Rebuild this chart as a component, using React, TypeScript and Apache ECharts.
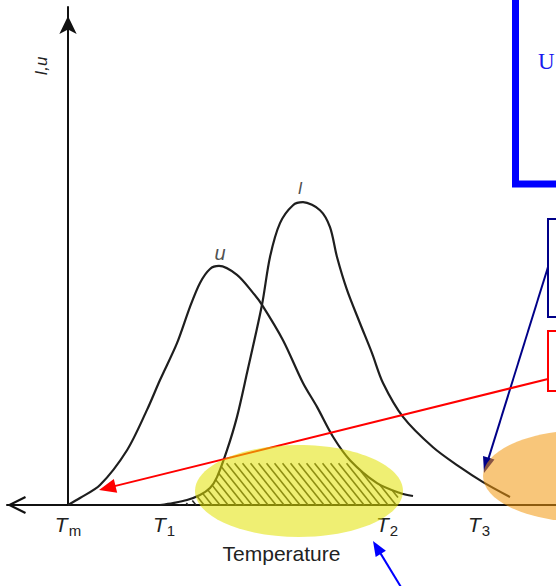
import React, { useEffect, useRef } from 'react';
import * as echarts from 'echarts';

// ---- data (temperature offset from Tm, relative signal 0..100) ----
const uTemp = [0, 12, 32, 59, 79, 92, 109, 122, 132, 142, 151, 169, 185, 194, 215, 235, 249, 265, 282, 309, 332, 345];
const uValue = [0, 1.4, 4.0, 11.0, 19.1, 25.1, 32.5, 39.8, 44.6, 47.4, 48.0, 46.2, 42.6, 40.2, 33.1, 24.5, 19.7, 13.7, 9.0, 4.4, 2.4, 1.8];
const iTemp = [92, 105, 119, 132, 142, 149, 159, 169, 179, 194, 202, 212, 225, 235, 252, 262, 269, 279, 292, 304, 315, 335, 365, 392, 415, 442];
const iValue = [0, 0.4, 1.0, 2.0, 3.4, 5.6, 11.0, 17.7, 26.5, 40.2, 49.8, 56.6, 60.2, 60.8, 59.2, 55.8, 49.8, 43.2, 36.5, 30.5, 24.5, 17.7, 11.6, 7.6, 4.6, 1.6];
const hatchTemp = [110, 122, 132, 142, 149, 154, 282, 297, 309, 322, 330];
const hatchValue = [0, 0.6, 2.0, 3.4, 5.6, 8.4, 8.4, 6.2, 4.4, 3.0, 2.6];
const tickValues = [0, 96, 319, 411];
const tickSubs = ['m', '1', '2', '3'];
const curveNames = ['u', 'I'];
const curveLabelTemp = [152, 232];
const curveLabelValue = [50.6, 63.5];

function arrowEls(x1: number, y1: number, x2: number, y2: number, color: string, lw: number, len: number, w: number) {
  const dx = x2 - x1, dy = y2 - y1;
  const L = Math.hypot(dx, dy);
  const ux = dx / L, uy = dy / L;
  const nx = -uy, ny = ux;
  const bx = x2 - ux * len, by = y2 - uy * len;
  return [
    { type: 'line', z: 10, shape: { x1, y1, x2: bx + ux * 2, y2: by + uy * 2 }, style: { stroke: color, lineWidth: lw } },
    {
      type: 'polygon', z: 10,
      shape: { points: [[x2, y2], [bx + nx * w / 2, by + ny * w / 2], [bx - nx * w / 2, by - ny * w / 2]] },
      style: { fill: color },
    },
  ];
}

export default function App() {
  const ref = useRef<HTMLDivElement>(null);
  useEffect(() => {
    if (!ref.current) return;
    const chart = echarts.init(ref.current, null, { renderer: 'svg' });
    const lineColor = '#1e1e1e';
    const option: any = {
      animation: false,
      backgroundColor: '#ffffff',
      grid: { left: 7, right: 0, top: 7, bottom: 81, containLabel: false, outerBoundsMode: 'none' },
      xAxis: {
        type: 'value',
        min: -61,
        max: 488,
        axisLine: {
          onZero: true,
          symbol: ['path://M0 0 L9 18 L7 19 L0 4.9 L-7 19 L-9 18 Z', 'none'],
          symbolSize: [18, 19],
          symbolOffset: [9.5, 0],
          lineStyle: { color: '#111', width: 2 },
        },
        axisTick: { show: false },
        splitLine: { show: false },
        axisLabel: {
          customValues: tickValues,
          margin: 6,
          formatter: (v: number) => {
            const i = tickValues.indexOf(v);
            return i < 0 ? '' : `{t|T}{s|${tickSubs[i]}}`;
          },
          rich: {
            t: { fontFamily: 'Liberation Sans', fontStyle: 'italic', fontSize: 21, color: '#222' },
            s: { fontFamily: 'Liberation Sans', fontSize: 15, color: '#222', padding: [12, 0, 0, 1] },
          },
        },
        name: 'Temperature',
        nameLocation: 'middle',
        nameGap: 34,
        nameTextStyle: { fontFamily: 'Liberation Sans', fontSize: 21, color: '#222' },
      },
      yAxis: {
        type: 'value',
        min: 0,
        max: 100,
        axisLine: {
          show: true,
          onZero: true,
          symbol: ['none', 'arrow'],
          symbolSize: [13, 18],
          symbolOffset: [0, -9],
          lineStyle: { color: '#111', width: 2 },
        },
        axisTick: { show: false },
        axisLabel: { show: false },
        splitLine: { show: false },
      },
      series: [
        {
          type: 'custom',
          coordinateSystem: 'cartesian2d',
          silent: true,
          z: 1,
          data: [[hatchTemp[0], hatchValue[0]]],
          renderItem: (params: any, api: any) => {
            const top = hatchTemp.map((t, i) => api.coord([t, hatchValue[i]]));
            const n = top.length;
            const poly = [...top, api.coord([hatchTemp[n - 1], 0]), api.coord([hatchTemp[0], 0])];
            const m = 0.8, step = 8;
            const g = (p: number[]) => p[0] - m * p[1];
            let gmin = Infinity, gmax = -Infinity;
            poly.forEach((p) => { const v = g(p); gmin = Math.min(gmin, v); gmax = Math.max(gmax, v); });
            const children: any[] = [];
            for (let c = Math.ceil(gmin / step) * step; c <= gmax; c += step) {
              const pts: number[][] = [];
              for (let k = 0; k < poly.length; k++) {
                const a = poly[k], b = poly[(k + 1) % poly.length];
                const fa = g(a) - c, fb = g(b) - c;
                if ((fa < 0 && fb >= 0) || (fa >= 0 && fb < 0)) {
                  const t = fa / (fa - fb);
                  pts.push([a[0] + (b[0] - a[0]) * t, a[1] + (b[1] - a[1]) * t]);
                }
              }
              pts.sort((p, q) => p[1] - q[1]);
              for (let k = 0; k + 1 < pts.length; k += 2) {
                children.push({
                  type: 'line',
                  shape: { x1: pts[k][0], y1: pts[k][1], x2: pts[k + 1][0], y2: pts[k + 1][1] },
                  style: { stroke: '#2a2a2a', lineWidth: 1.6 },
                });
              }
            }
            return { type: 'group', children };
          },
        },
        {
          type: 'line',
          name: 'u',
          data: uTemp.map((t, i) => [t, uValue[i]]),
          showSymbol: false,
          smooth: 0.3,
          silent: true,
          lineStyle: { color: lineColor, width: 2.2 },
        },
        {
          type: 'line',
          name: 'I',
          data: iTemp.map((t, i) => [t, iValue[i]]),
          showSymbol: false,
          smooth: 0.3,
          silent: true,
          lineStyle: { color: lineColor, width: 2.2 },
        },
        {
          type: 'scatter',
          silent: true,
          symbolSize: 1,
          itemStyle: { color: 'rgba(0,0,0,0)' },
          data: curveNames.map((nm, i) => ({
            value: [curveLabelTemp[i], curveLabelValue[i]],
            name: nm,
            label: { fontSize: i === 0 ? 20 : 17 },
          })),
          label: {
            show: true,
            position: 'inside',
            formatter: (p: any) => p.name,
            fontFamily: 'Liberation Sans',
            fontStyle: 'italic',
            color: '#222',
          },
        },
      ],
      graphic: [
        {
          type: 'text', z: 10, x: 41, y: 66, rotation: Math.PI / 2,
          style: { text: 'I,u', font: 'italic 17px "Liberation Sans"', fill: '#222', textAlign: 'center', textVerticalAlign: 'middle' },
        },
        { type: 'rect', z: 10, shape: { x: 515.5, y: -20, width: 120, height: 204 }, style: { stroke: '#0000ff', fill: 'none', lineWidth: 7 } },
        { type: 'text', z: 10, x: 538, y: 50, style: { text: 'U', font: '23px "Liberation Serif"', fill: '#1a1aee', textVerticalAlign: 'top' } },
        { type: 'rect', z: 10, shape: { x: 548, y: 219, width: 30, height: 98 }, style: { stroke: '#000088', fill: 'none', lineWidth: 2 } },
        { type: 'rect', z: 10, shape: { x: 548, y: 331, width: 30, height: 60 }, style: { stroke: '#ff0000', fill: 'none', lineWidth: 2 } },
        ...arrowEls(548, 267, 484, 473, '#000088', 2, 16, 12),
        ...arrowEls(548, 379, 99, 490, '#ff0000', 2, 17, 14),
        ...arrowEls(404, 592, 373, 541, '#0000ff', 2, 15, 12),
        { type: 'ellipse', z: 100, shape: { cx: 299, cy: 491, rx: 104, ry: 46 }, style: { fill: 'rgba(225,225,0,0.55)' } },
        { type: 'ellipse', z: 100, shape: { cx: 585, cy: 476, rx: 102, ry: 46 }, style: { fill: 'rgba(242,151,13,0.55)' } },
      ],
    };
    chart.setOption(option);
    return () => chart.dispose();
  }, []);
  return <div ref={ref} style={{ position: 'fixed', left: 0, top: 0, width: 556, height: 586 }} />;
}
